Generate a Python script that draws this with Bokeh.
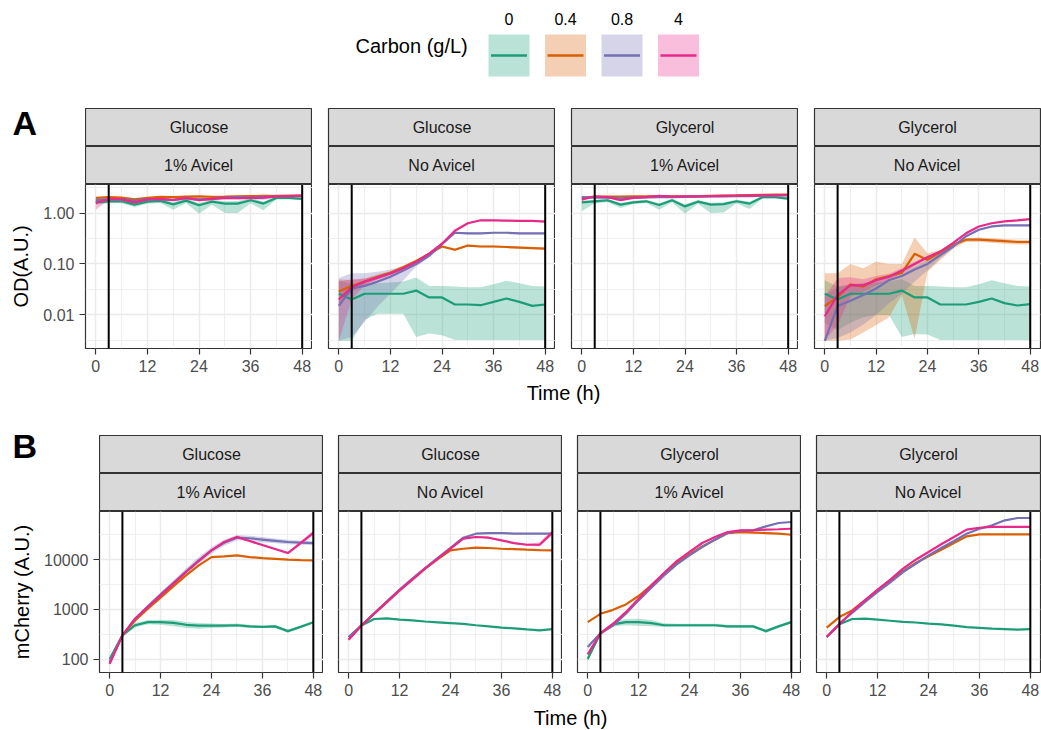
from bokeh.plotting import figure
from bokeh.layouts import column, row
from bokeh.models import Range1d, FixedTicker, Span
from bokeh.core.properties import value
from bokeh.embed import file_html
from bokeh.resources import INLINE

FONT = "Liberation Sans"

# ---------------- data ----------------
times = [0, 3, 6, 9, 12, 15, 18, 21, 24, 27, 30, 33, 36, 39, 42, 45, 48]
carbon_levels = ["0", "0.4", "0.8", "4"]
colors = ["#1B9E77", "#D95F02", "#7570B3", "#E7298A"]
sugars = ["Glucose", "Glucose", "Glycerol", "Glycerol"]
avicel = ["1% Avicel", "No Avicel", "1% Avicel", "No Avicel"]
time_ticks = [0, 12, 24, 36, 48]
time_minor = [6, 18, 30, 42]
od_ticks = [0.01, 0.1, 1.0]
od_tick_labels = ["0.01", "0.10", "1.00"]
od_minor = [0.00316, 0.0316, 0.316, 3.16]
mch_ticks = [100, 1000, 10000]
mch_tick_labels = ["100", "1000", "10000"]
mch_minor = [31.6, 316, 3162, 31623]
vlines = [3, 48]

# ---- A: OD, panel 1 (Glucose, 1% Avicel)
od1_c0 = [1.62, 1.70, 1.70, 1.46, 1.67, 1.73, 1.48, 1.75, 1.42, 1.67, 1.53, 1.53, 1.78, 1.53, 1.98, 1.98, 1.89]
od1_c0_lo = [1.45, 1.55, 1.55, 1.31, 1.52, 1.58, 1.16, 1.58, 0.97, 1.45, 1.00, 1.00, 1.55, 1.13, 1.85, 1.85, 1.78]
od1_c0_hi = [1.80, 1.85, 1.85, 1.60, 1.82, 1.88, 1.62, 1.90, 1.58, 1.82, 1.70, 1.72, 1.95, 1.68, 2.08, 2.08, 1.98]
od1_c04 = [1.98, 2.05, 2.00, 1.85, 1.98, 2.07, 2.05, 2.10, 2.13, 2.08, 2.10, 2.13, 2.15, 2.15, 2.18, 2.20, 2.20]
od1_c08 = [1.78, 1.85, 1.85, 1.75, 1.85, 1.85, 1.80, 1.95, 1.85, 1.90, 2.00, 2.05, 2.00, 2.05, 2.10, 2.15, 2.15]
od1_c08_lo = [1.55, 1.75, 1.75, 1.62, 1.75, 1.75, 1.68, 1.82, 1.72, 1.78, 1.85, 1.90, 1.85, 1.80, 1.98, 2.05, 2.05]
od1_c08_hi = [2.00, 1.95, 1.95, 1.88, 1.95, 1.95, 1.92, 2.08, 1.98, 2.02, 2.15, 2.20, 2.18, 2.40, 2.22, 2.25, 2.25]
od1_c4 = [1.57, 1.89, 1.85, 1.62, 1.85, 1.89, 1.80, 1.98, 1.78, 1.89, 1.98, 1.95, 1.98, 2.00, 2.13, 2.15, 2.20]
od1_c4_lo = [1.16, 1.78, 1.75, 1.52, 1.75, 1.79, 1.70, 1.88, 1.68, 1.79, 1.88, 1.85, 1.88, 1.90, 2.03, 2.05, 2.10]
od1_c4_hi = [2.00, 2.00, 1.95, 1.72, 1.95, 1.99, 1.90, 2.08, 1.88, 1.99, 2.08, 2.05, 2.08, 2.10, 2.23, 2.25, 2.30]

# ---- A: OD, panel 2 (Glucose, No Avicel)
od2_c0 = [0.026, 0.020, 0.026, 0.026, 0.026, 0.026, 0.030, 0.022, 0.022, 0.016, 0.016, 0.0155, 0.018, 0.021, 0.018, 0.015, 0.016]
od2_c0_lo = [0.0031, 0.0031, 0.008, 0.0105, 0.0105, 0.0105, 0.0037, 0.0043, 0.0040, 0.0032, 0.0032, 0.0032, 0.0032, 0.0032, 0.0032, 0.0032, 0.0032]
od2_c0_hi = [0.048, 0.040, 0.042, 0.042, 0.043, 0.045, 0.054, 0.037, 0.037, 0.036, 0.035, 0.035, 0.040, 0.047, 0.042, 0.037, 0.036]
od2_c04 = [0.029, 0.037, 0.045, 0.056, 0.067, 0.086, 0.115, 0.158, 0.22, 0.19, 0.23, 0.22, 0.22, 0.215, 0.21, 0.205, 0.20]
od2_c04_lo = [0.016, 0.028, 0.039, 0.050, 0.061, 0.080, 0.108, 0.150, 0.21, 0.18, 0.22, 0.21, 0.21, 0.205, 0.20, 0.195, 0.19]
od2_c04_hi = [0.050, 0.048, 0.052, 0.062, 0.073, 0.093, 0.122, 0.166, 0.23, 0.20, 0.24, 0.23, 0.23, 0.225, 0.22, 0.215, 0.21]
od2_c08 = [0.015, 0.033, 0.037, 0.045, 0.056, 0.074, 0.10, 0.144, 0.245, 0.41, 0.40, 0.40, 0.41, 0.41, 0.40, 0.40, 0.40]
od2_c08_lo = [0.0031, 0.0037, 0.0073, 0.0144, 0.026, 0.048, 0.089, 0.135, 0.235, 0.39, 0.385, 0.385, 0.395, 0.395, 0.385, 0.385, 0.385]
od2_c08_hi = [0.053, 0.066, 0.066, 0.070, 0.078, 0.092, 0.115, 0.155, 0.255, 0.43, 0.415, 0.415, 0.425, 0.425, 0.415, 0.415, 0.415]
od2_c4 = [0.020, 0.035, 0.045, 0.054, 0.065, 0.082, 0.11, 0.16, 0.25, 0.45, 0.63, 0.72, 0.72, 0.71, 0.70, 0.70, 0.68]
od2_c4_lo = [0.0031, 0.020, 0.038, 0.049, 0.060, 0.077, 0.104, 0.152, 0.24, 0.43, 0.61, 0.70, 0.70, 0.69, 0.68, 0.68, 0.66]
od2_c4_hi = [0.045, 0.050, 0.052, 0.060, 0.071, 0.088, 0.117, 0.168, 0.26, 0.47, 0.65, 0.74, 0.74, 0.73, 0.72, 0.72, 0.70]

# ---- A: OD, panel 3 (Glycerol, 1% Avicel)
od3_c0 = [1.62, 1.70, 1.78, 1.46, 1.62, 1.70, 1.44, 1.78, 1.35, 1.67, 1.46, 1.50, 1.70, 1.53, 2.04, 2.04, 1.92]
od3_c0_lo = [1.08, 1.55, 1.62, 1.25, 1.50, 1.58, 1.16, 1.62, 0.97, 1.52, 1.00, 1.02, 1.55, 1.20, 1.92, 1.92, 1.80]
od3_c0_hi = [1.75, 1.82, 1.90, 1.58, 1.75, 1.82, 1.56, 1.90, 1.48, 1.80, 1.60, 1.62, 1.82, 1.66, 2.15, 2.15, 2.05]
od3_c04 = [1.98, 2.07, 2.10, 2.10, 2.13, 2.13, 2.15, 2.13, 2.13, 2.15, 2.18, 2.20, 2.22, 2.25, 2.28, 2.30, 2.30]
od3_c08 = [2.05, 2.00, 2.00, 1.95, 2.00, 2.02, 2.05, 2.05, 2.08, 2.10, 2.12, 2.13, 2.15, 2.15, 2.20, 2.22, 2.25]
od3_c4 = [1.83, 2.13, 2.05, 1.78, 1.98, 2.05, 2.18, 2.10, 2.13, 2.13, 2.15, 2.18, 2.20, 2.20, 2.22, 2.22, 2.25]

# ---- A: OD, panel 4 (Glycerol, No Avicel)
od4_c0 = [0.026, 0.020, 0.026, 0.026, 0.026, 0.026, 0.030, 0.022, 0.022, 0.016, 0.016, 0.016, 0.018, 0.021, 0.017, 0.0153, 0.0163]
od4_c0_lo = [0.007, 0.005, 0.007, 0.009, 0.010, 0.010, 0.0037, 0.0042, 0.0041, 0.0032, 0.0032, 0.0032, 0.0032, 0.0032, 0.0032, 0.0032, 0.0032]
od4_c0_hi = [0.048, 0.036, 0.040, 0.042, 0.043, 0.045, 0.050, 0.037, 0.037, 0.036, 0.035, 0.035, 0.040, 0.048, 0.042, 0.037, 0.036]
od4_c04 = [0.0149, 0.0226, 0.040, 0.036, 0.050, 0.058, 0.067, 0.158, 0.12, 0.17, 0.237, 0.30, 0.30, 0.29, 0.28, 0.27, 0.27]
od4_c04_lo = [0.0031, 0.0031, 0.0033, 0.0045, 0.0063, 0.0090, 0.0245, 0.0034, 0.07, 0.12, 0.20, 0.27, 0.27, 0.26, 0.25, 0.24, 0.24]
od4_c04_hi = [0.066, 0.066, 0.10, 0.082, 0.11, 0.10, 0.10, 0.33, 0.16, 0.19, 0.255, 0.32, 0.33, 0.32, 0.31, 0.30, 0.30]
od4_c08 = [0.0031, 0.0149, 0.019, 0.0245, 0.033, 0.048, 0.058, 0.078, 0.10, 0.15, 0.22, 0.35, 0.47, 0.545, 0.57, 0.57, 0.57]
od4_c08_lo = [0.0031, 0.0035, 0.0045, 0.0065, 0.010, 0.017, 0.026, 0.045, 0.075, 0.13, 0.20, 0.33, 0.45, 0.52, 0.55, 0.55, 0.55]
od4_c08_hi = [0.025, 0.035, 0.040, 0.042, 0.048, 0.060, 0.072, 0.090, 0.12, 0.17, 0.24, 0.37, 0.49, 0.57, 0.59, 0.59, 0.59]
od4_c4 = [0.0094, 0.0245, 0.038, 0.038, 0.048, 0.056, 0.074, 0.10, 0.135, 0.175, 0.26, 0.40, 0.545, 0.63, 0.685, 0.72, 0.76]
od4_c4_lo = [0.0031, 0.0063, 0.023, 0.028, 0.038, 0.048, 0.066, 0.092, 0.125, 0.165, 0.25, 0.385, 0.53, 0.615, 0.67, 0.70, 0.74]
od4_c4_hi = [0.0226, 0.053, 0.055, 0.050, 0.058, 0.064, 0.082, 0.11, 0.145, 0.185, 0.27, 0.415, 0.56, 0.645, 0.70, 0.74, 0.78]

# ---- B: mCherry, panel 1 (Glucose, 1% Avicel)
mc1_c0 = [100, 300, 480, 555, 555, 535, 490, 470, 470, 470, 480, 455, 445, 455, 365, 445, 550]
mc1_c0_lo = [90, 280, 430, 500, 490, 460, 420, 410, 420, 430, 440, 420, 420, 425, 340, 420, 520]
mc1_c0_hi = [110, 320, 530, 610, 620, 610, 560, 530, 520, 510, 520, 490, 470, 485, 390, 475, 580]
mc1_c04 = [85, 300, 600, 1030, 1720, 2900, 4840, 7690, 11300, 11700, 12200, 11300, 10800, 10400, 10000, 9800, 9700]
mc1_c08 = [87, 300, 650, 1150, 2000, 3400, 5800, 9700, 15400, 22000, 27700, 27000, 25300, 24000, 22700, 22000, 21600]
mc1_c08_lo = [80, 280, 610, 1050, 1800, 3000, 5000, 8300, 13200, 19000, 24500, 24000, 22500, 21500, 20500, 20000, 19800]
mc1_c08_hi = [95, 320, 700, 1260, 2200, 3800, 6700, 11300, 17800, 25500, 31500, 30500, 28500, 26800, 25200, 24200, 23600]
mc1_c4 = [80, 300, 650, 1120, 1910, 3300, 5650, 9400, 15400, 22700, 28600, 23800, 19700, 16400, 13600, 21600, 34800]
mc1_c4_lo = [75, 285, 620, 1060, 1820, 3150, 5400, 9000, 14700, 21600, 27000, 22500, 18700, 15600, 12900, 19800, 31500]
mc1_c4_hi = [86, 315, 680, 1180, 2000, 3450, 5900, 9800, 16100, 23800, 30200, 25100, 20700, 17200, 14300, 23400, 38500]

# ---- B: mCherry, panel 2 (Glucose, No Avicel)
mc2_c0 = [278, 475, 640, 660, 625, 600, 570, 550, 530, 510, 480, 455, 430, 415, 395, 378, 400]
mc2_c04 = [250, 475, 815, 1400, 2410, 3960, 6590, 10300, 15400, 16600, 17500, 17200, 16600, 16300, 15900, 15600, 15400]
mc2_c08 = [278, 475, 830, 1450, 2500, 4150, 6800, 10900, 17300, 27700, 33400, 34400, 34400, 33400, 33400, 33400, 33400]
mc2_c4 = [245, 475, 815, 1400, 2410, 3960, 6590, 10500, 16640, 26500, 28600, 27700, 24500, 21600, 20000, 20000, 35000]
mc2_c4_lo = [235, 455, 785, 1350, 2330, 3830, 6380, 10150, 16100, 25500, 27500, 26600, 23500, 20700, 19000, 18500, 31000]
mc2_c4_hi = [255, 495, 845, 1450, 2490, 4090, 6800, 10850, 17200, 27500, 29700, 28800, 25500, 22500, 21000, 22500, 40000]

# ---- B: mCherry, panel 3 (Glycerol, 1% Avicel)
mc3_c0 = [100, 330, 500, 555, 555, 530, 480, 480, 480, 480, 480, 455, 455, 455, 365, 455, 555]
mc3_c0_lo = [90, 300, 450, 480, 470, 460, 440, 445, 445, 445, 445, 425, 425, 425, 340, 425, 520]
mc3_c0_hi = [110, 360, 555, 640, 650, 610, 525, 515, 515, 515, 515, 490, 485, 485, 390, 485, 590]
mc3_c04 = [555, 815, 980, 1260, 1860, 3040, 5230, 8570, 12800, 18500, 25300, 34400, 36000, 35000, 34400, 33400, 31800]
mc3_c08 = [175, 330, 475, 815, 1520, 2720, 4840, 8060, 12200, 18000, 25300, 34400, 38000, 39000, 46900, 54800, 57300]
mc3_c4 = [124, 330, 515, 880, 1640, 3040, 5390, 9400, 14300, 21700, 28600, 36000, 39000, 39000, 40300, 41000, 42000]

# ---- B: mCherry, panel 4 (Glycerol, No Avicel)
mc4_c0 = [278, 500, 640, 650, 620, 590, 560, 545, 515, 500, 470, 440, 425, 410, 400, 390, 400]
mc4_c04 = [430, 700, 955, 1520, 2410, 3820, 5900, 8570, 11700, 15900, 21600, 29500, 32400, 32400, 32400, 32400, 32400]
mc4_c08 = [278, 515, 845, 1400, 2240, 3500, 5650, 8300, 12200, 17200, 23800, 33400, 42000, 49200, 62000, 69000, 69000]
mc4_c4 = [278, 500, 910, 1520, 2490, 3960, 6590, 10000, 14300, 20400, 28600, 40300, 44000, 45600, 45600, 45600, 45600]

od_panels = [
    [(od1_c0, od1_c0_lo, od1_c0_hi), (od1_c04, None, None), (od1_c08, od1_c08_lo, od1_c08_hi), (od1_c4, od1_c4_lo, od1_c4_hi)],
    [(od2_c0, od2_c0_lo, od2_c0_hi), (od2_c04, od2_c04_lo, od2_c04_hi), (od2_c08, od2_c08_lo, od2_c08_hi), (od2_c4, od2_c4_lo, od2_c4_hi)],
    [(od3_c0, od3_c0_lo, od3_c0_hi), (od3_c04, None, None), (od3_c08, None, None), (od3_c4, None, None)],
    [(od4_c0, od4_c0_lo, od4_c0_hi), (od4_c04, od4_c04_lo, od4_c04_hi), (od4_c08, od4_c08_lo, od4_c08_hi), (od4_c4, od4_c4_lo, od4_c4_hi)],
]
mc_panels = [
    [(mc1_c0, mc1_c0_lo, mc1_c0_hi), (mc1_c04, None, None), (mc1_c08, mc1_c08_lo, mc1_c08_hi), (mc1_c4, mc1_c4_lo, mc1_c4_hi)],
    [(mc2_c0, None, None), (mc2_c04, None, None), (mc2_c08, None, None), (mc2_c4, mc2_c4_lo, mc2_c4_hi)],
    [(mc3_c0, mc3_c0_lo, mc3_c0_hi), (mc3_c04, None, None), (mc3_c08, None, None), (mc3_c4, None, None)],
    [(mc4_c0, None, None), (mc4_c04, None, None), (mc4_c08, None, None), (mc4_c4, None, None)],
]

# ---------------- helpers ----------------
def blank(width, height, xr=None, yr=None):
    f = figure(width=width, height=height,
               x_range=xr if xr is not None else Range1d(0, 1),
               y_range=yr if yr is not None else Range1d(0, 1),
               x_axis_location=None, y_axis_location=None, min_border=0,
               min_border_left=0, min_border_right=0, min_border_top=0, min_border_bottom=0,
               toolbar_location=None, output_backend="svg", title=None)
    f.grid.visible = False
    f.outline_line_color = None
    return f


def strip(label, frame_w, left, right, h=38):
    s = blank(left + frame_w + right, h)
    s.min_border_left = left
    s.min_border_right = right
    s.background_fill_color = "#d9d9d9"
    s.outline_line_color = "#333333"
    s.outline_line_width = 1.2
    s.text(x=[0.5], y=[0.5], text=[label], text_align="center", text_baseline="middle",
           text_font=value(FONT), text_font_size="16px", text_color="#1a1a1a")
    return s


def side_label(letter, width, h, ypos):
    f = blank(width, h, Range1d(0, width), Range1d(h, 0))
    f.text(x=[12], y=[ypos], text=[letter], text_align="left", text_baseline="middle",
           text_font=value(FONT), text_font_size="34px", text_font_style="bold", text_color="black")
    return f


def panel(series, yr, yticks, yminor, ylabels, frame_w, frame_h, left, right, ylabel=None):
    p = figure(width=left + frame_w + right, height=frame_h + 32,
               x_range=Range1d(-2.4, 50.4), y_range=Range1d(*yr), y_axis_type="log",
               min_border_left=left, min_border_right=right, min_border_top=0, min_border_bottom=32,
               toolbar_location=None, output_backend="svg", title=None)
    p.outline_line_color = "#333333"
    p.outline_line_width = 1.2
    xt = FixedTicker(ticks=time_ticks, minor_ticks=time_minor)
    yt = FixedTicker(ticks=yticks, minor_ticks=yminor)
    p.xaxis.ticker = xt
    p.xgrid.ticker = xt
    p.yaxis.ticker = yt
    p.ygrid.ticker = yt
    p.xaxis.major_label_overrides = {t: str(t) for t in time_ticks}
    p.yaxis.major_label_overrides = dict(zip(yticks, ylabels))
    for ax in list(p.xaxis) + list(p.yaxis):
        ax.axis_line_color = None
        ax.major_tick_line_color = "#333333"
        ax.major_tick_line_width = 1.2
        ax.major_tick_in = 0
        ax.major_tick_out = 6
        ax.minor_tick_line_color = None
        ax.major_label_text_color = "#4d4d4d"
        ax.major_label_text_font = FONT
        ax.major_label_text_font_size = "16px"
        ax.major_label_standoff = 5
    p.grid.grid_line_color = "#ebebeb"
    p.grid.grid_line_width = 1.5
    p.grid.minor_grid_line_color = "#ebebeb"
    p.grid.minor_grid_line_width = 0.8
    if ylabel:
        p.yaxis.axis_label = ylabel
        p.yaxis.axis_label_text_font = FONT
        p.yaxis.axis_label_text_font_size = "20px"
        p.yaxis.axis_label_text_font_style = "normal"
        p.yaxis.axis_label_text_color = "black"
        p.yaxis.axis_label_standoff = 8
    else:
        p.yaxis.visible = False
    for (vals, lo, hi), c in zip(series, colors):
        if lo is not None:
            p.varea(x=times, y1=lo, y2=hi, fill_color=c, fill_alpha=0.3)
    for (vals, lo, hi), c in zip(series, colors):
        p.line(times, vals, line_color=c, line_width=2.2)
    for v in vlines:
        p.add_layout(Span(location=v, dimension="height", line_color="black", line_width=2))
    return p


def title_fig(text, width, h, xc, yc):
    f = blank(width, h, Range1d(0, width), Range1d(h, 0))
    f.text(x=[xc], y=[yc], text=[text], text_align="center", text_baseline="middle",
           text_font=value(FONT), text_font_size="20px", text_color="black")
    return f


# ---------------- legend ----------------
leg = blank(1041, 95, Range1d(0, 1041), Range1d(95, 0))
key_x = [508.5 + 56.5 * i for i in range(len(carbon_levels))]
leg.rect(x=key_x, y=[55] * 4, width=41, height=42, fill_color=colors, fill_alpha=0.3, line_color=None)
leg.segment(x0=[k - 18 for k in key_x], y0=[55] * 4, x1=[k + 18 for k in key_x], y1=[55] * 4,
            line_color=colors, line_width=2.5)
leg.text(x=key_x, y=[18] * 4, text=carbon_levels, text_align="center", text_baseline="middle",
         text_font=value(FONT), text_font_size="16px", text_color="black")
leg.text(x=[355], y=[45], text=["Carbon (g/L)"], text_align="left", text_baseline="middle",
         text_font=value(FONT), text_font_size="20px", text_color="black")

# ---------------- row A ----------------
A_left, A_w, A_gap, A_h = 85, 227, 16, 164
a_lefts = [A_left, A_gap, A_gap, A_gap]
a_rights = [0, 0, 0, 1]
a_w = [A_w, A_w, A_w, A_w - 1]

stripsA1 = row(*[strip(sugars[i], a_w[i], 0 if i == 0 else A_gap, a_rights[i]) for i in range(4)])
stripsA2 = row(*[strip(avicel[i], a_w[i], 0 if i == 0 else A_gap, a_rights[i]) for i in range(4)])
headA = row(side_label("A", A_left, 89, 27.5),
            column(blank(1041 - A_left, 13), stripsA1, stripsA2))
plotsA = [panel(od_panels[i], (10 ** -2.66, 10 ** 0.56), od_ticks, od_minor, od_tick_labels,
                a_w[i], A_h, a_lefts[i], a_rights[i], ylabel="OD(A.U.)" if i == 0 else None) for i in range(4)]
timeA = title_fig("Time (h)", 1041, 40, 563, 12)

# ---------------- row B ----------------
B_left, B_w, B_gap, B_h = 99, 224, 15, 161
b_lefts = [B_left, B_gap, B_gap, B_gap]
b_rights = [0, 0, 0, 1]
stripsB1 = row(*[strip(sugars[i], B_w, 0 if i == 0 else B_gap, b_rights[i]) for i in range(4)])
stripsB2 = row(*[strip(avicel[i], B_w, 0 if i == 0 else B_gap, b_rights[i]) for i in range(4)])
headB = row(side_label("B", B_left, 91, 25),
            column(blank(1041 - B_left, 15), stripsB1, stripsB2))
plotsB = [panel(mc_panels[i], (10 ** 1.73, 10 ** 4.97), mch_ticks, mch_minor, mch_tick_labels,
                B_w, B_h, b_lefts[i], b_rights[i], ylabel="mCherry (A.U.)" if i == 0 else None) for i in range(4)]
timeB = title_fig("Time (h)", 1041, 26, 570, 13)

layout = column(
    leg,
    headA, row(*plotsA), timeA,
    headB, row(*plotsB), timeB,
    spacing=0,
)

open("out.html", "w").write(file_html(layout, INLINE))
